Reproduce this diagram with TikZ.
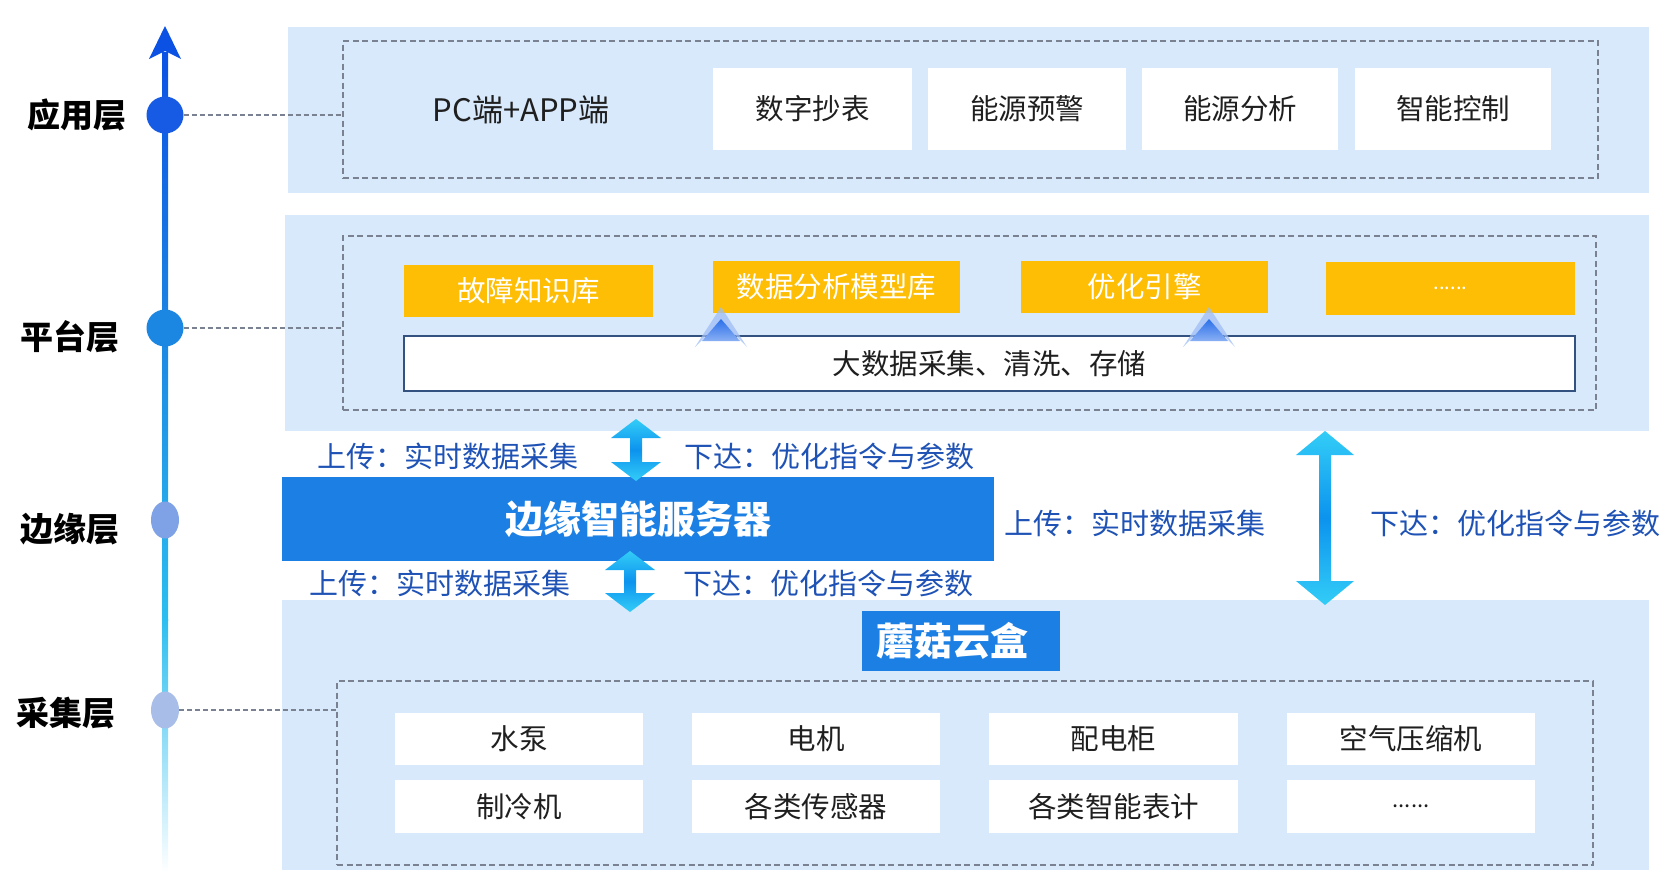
\documentclass[tikz,border=0pt]{standalone}
\usepackage{fontspec}
\setmainfont{Noto Sans CJK SC}
\usetikzlibrary{shapes.geometric}
\definecolor{panelc}{HTML}{D8E9FB}
\definecolor{yel}{HTML}{FDBE05}
\definecolor{srvblue}{HTML}{1B7FE4}
\definecolor{lblblue}{HTML}{1F52B5}
\definecolor{dashc}{HTML}{7A8190}
\definecolor{axtop}{HTML}{0B52E4}
\definecolor{axmid}{HTML}{1C86E3}
\definecolor{axlow}{HTML}{2BBEF0}
\definecolor{arrlight}{HTML}{33CDF7}
\definecolor{arrdark}{HTML}{0C93EE}
\definecolor{chev}{HTML}{2A6FEA}
\definecolor{bdbord}{HTML}{34527F}
\definecolor{edgec}{HTML}{7FA2E6}
\definecolor{colc}{HTML}{A8BEE8}
\newcommand{\fsz}[1]{\fontsize{#1}{#1}\selectfont}
\newcommand{\fatarrow}[6]{%
  \shade[top color=arrlight, bottom color=arrlight, middle color=arrdark]
    (#1,#2) -- (#1+#4,#2+#5) -- (#1+#6,#2+#5) -- (#1+#6,#3-#5) -- (#1+#4,#3-#5)
    -- (#1,#3) -- (#1-#4,#3-#5) -- (#1-#6,#3-#5) -- (#1-#6,#2+#5) -- (#1-#4,#2+#5) -- cycle;}
\newcommand{\chevron}[2]{%
  \fill[chev!45, opacity=0.75] (#1,#2) -- (#1+26,#2+40) -- (#1,#2+14) -- (#1-26,#2+40) -- cycle;
  \shade[top color=chev, bottom color=chev!55] (#1,#2+12) -- (#1+19,#2+34) -- (#1-19,#2+34) -- cycle;}
\begin{document}
\begin{tikzpicture}[x=1pt,y=-1pt,
  panel/.style={fill=panelc, draw=none, inner sep=0pt},
  dbox/.style={draw=dashc, line width=1.4pt, dash pattern=on 6pt off 3.5pt, fill=none, inner sep=0pt},
  wbox/.style={fill=white, draw=none, inner sep=0pt, font=\fsz{28.5}, text=black!88},
  ybox/.style={fill=yel, draw=none, inner sep=0pt, font=\fsz{28.5}, text=white, minimum width=248pt, minimum height=52pt},
  layerlbl/.style={font=\fsz{33}\bfseries, text=black},
  bluelbl/.style={font=\fsz{29}, text=lblblue, inner sep=0pt},
  dashconn/.style={draw=dashc, line width=1.4pt, dash pattern=on 5pt off 3pt},
  bigbtn/.style={fill=srvblue, draw=none, inner sep=0pt, font=\fsz{38}\bfseries, text=white}
]
\useasboundingbox (0,0) rectangle (1673,886);

% ---------- axis ----------
\shade[top color=axtop, bottom color=axmid] (162,52) rectangle (168,330);
\shade[top color=axmid, bottom color=axlow] (162,329) rectangle (168,620);
\shade[top color=axlow, bottom color=white] (162,619) rectangle (168,872);
\coordinate (axtip) at (165,26);
\fill[axtop] (axtip) -- (181,59) -- (165,51) -- (149,59) -- cycle;

% ---------- application layer ----------
\node[panel, minimum width=1361pt, minimum height=166pt] (toppanel) at (968.5,110) {};
\node[dbox, minimum width=1255pt, minimum height=137pt] (topdash) at (970.5,109.5) {};
\node[font=\fsz{31}, text=black!88] (pc) at (521,110) {PC端+APP端};
\node[wbox, minimum width=199pt, minimum height=82pt] (a1) at (812.5,109) {数字抄表};
\node[wbox, minimum width=198pt, minimum height=82pt] (a2) at (1027,109) {能源预警};
\node[wbox, minimum width=196pt, minimum height=82pt] (a3) at (1240,109) {能源分析};
\node[wbox, minimum width=196pt, minimum height=82pt] (a4) at (1453,109) {智能控制};

% ---------- platform layer ----------
\node[panel, minimum width=1364pt, minimum height=216pt] (platpanel) at (967,323) {};
\node[dbox, minimum width=1253pt, minimum height=174pt] (platdash) at (969.5,323) {};
\node[ybox, minimum width=249pt] (p1) at (528.5,291) {故障知识库};
\node[ybox, minimum width=247pt] (p2) at (836.5,287) {数据分析模型库};
\node[ybox, minimum width=247pt] (p3) at (1144.5,287) {优化引擎};
\node[ybox, minimum width=249pt, minimum height=53pt, font=\fsz{20}] (p4) at (1450.5,288.5) {......};
\node[fill=white, draw=bdbord, line width=1.2pt, inner sep=0pt, minimum width=1171pt, minimum height=55pt, font=\fsz{28.5}, text=black!88] (bigdata) at (989.5,363.5) {大数据采集、清洗、存储};
\chevron{721}{307}
\chevron{1209}{307}

% ---------- edge layer ----------
\node[bigbtn, minimum width=712pt, minimum height=84pt] (server) at (638,519) {边缘智能服务器};
\node[bluelbl] (u1) at (448,456) {上传：实时数据采集};
\node[bluelbl] (d1) at (829,456) {下达：优化指令与参数};
\node[bluelbl] (u2) at (440,583) {上传：实时数据采集};
\node[bluelbl] (d2) at (828,583) {下达：优化指令与参数};
\node[bluelbl] (u3) at (1135,523) {上传：实时数据采集};
\node[bluelbl] (d3) at (1515,523) {下达：优化指令与参数};

% ---------- collection layer ----------
\node[panel, minimum width=1367pt, minimum height=270pt] (colpanel) at (965.5,735) {};
\node[bigbtn, minimum width=198pt, minimum height=60pt] (box) at (961,641) {};
\node[font=\fsz{38}\bfseries, text=white, inner sep=0pt] (boxlbl) at (952,641) {蘑菇云盒};
\node[dbox, minimum width=1256pt, minimum height=184pt] (coldash) at (965,773) {};
\node[wbox, minimum width=248pt, minimum height=52pt] (c1) at (519,739) {水泵};
\node[wbox, minimum width=248pt, minimum height=52pt] (c2) at (816,739) {电机};
\node[wbox, minimum width=249pt, minimum height=52pt] (c3) at (1113.5,739) {配电柜};
\node[wbox, minimum width=248pt, minimum height=52pt] (c4) at (1411,739) {空气压缩机};
\node[wbox, minimum width=248pt, minimum height=53pt] (c5) at (519,806.5) {制冷机};
\node[wbox, minimum width=248pt, minimum height=53pt] (c6) at (816,806.5) {各类传感器};
\node[wbox, minimum width=249pt, minimum height=53pt] (c7) at (1113.5,806.5) {各类智能表计};
\node[wbox, minimum width=248pt, minimum height=53pt, font=\fsz{22}] (c8) at (1411,806.5) {......};

% ---------- fat double arrows ----------
\fatarrow{636}{419}{481}{25}{19}{6}
\fatarrow{630}{551}{612}{25}{19}{6}
\fatarrow{1325}{431}{605}{29}{24}{6}

% ---------- axis circles & labels ----------
\node[circle, fill=axtop!95!white, minimum size=37pt, inner sep=0pt] (capp) at (165,115) {};
\node[circle, fill=axmid, minimum size=37pt, inner sep=0pt] (cplat) at (165,328) {};
\node[ellipse, fill=edgec, minimum width=28pt, minimum height=37pt, inner sep=0pt] (cedge) at (165,520) {};
\node[ellipse, fill=colc, minimum width=28pt, minimum height=37pt, inner sep=0pt] (ccol) at (165,710) {};
\node[layerlbl] (lapp) at (77,115) {应用层};
\node[layerlbl] (lplat) at (70,337) {平台层};
\node[layerlbl] (ledge) at (70,529) {边缘层};
\node[layerlbl] (lcol) at (66,713) {采集层};
\draw[dashconn] (capp.east) -- (capp.east -| topdash.west);
\draw[dashconn] (cplat.east) -- (cplat.east -| platdash.west);
\draw[dashconn] (ccol.east) -- (ccol.east -| coldash.west);
\end{tikzpicture}
\end{document}
